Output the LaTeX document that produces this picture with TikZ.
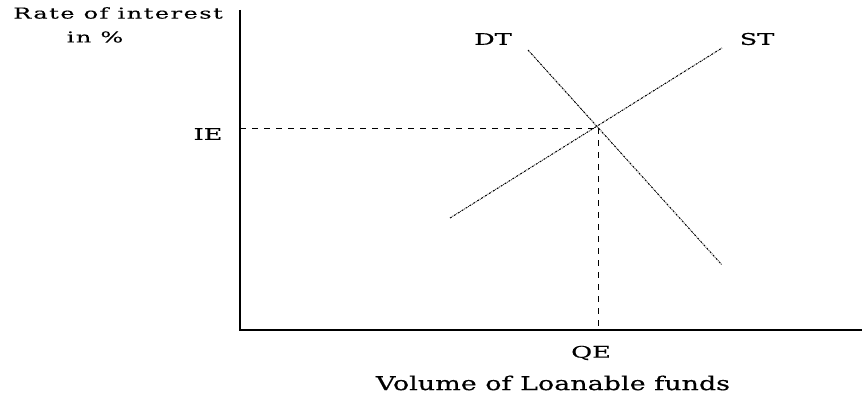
\documentclass[tikz,border=0pt]{standalone}
\usepackage{fontspec}
\setmainfont{DejaVu Serif}
\newfontfamily\widefont[FakeStretch=1.6,FakeBold=0.4]{DejaVu Serif}
\newfontfamily\ratefont[FakeStretch=1.6,LetterSpace=10,FakeBold=0.3]{DejaVu Serif}
\newfontfamily\titlefont[FakeStretch=1.42,FakeBold=0.4]{DejaVu Serif}
\usepackage{tikz}
\usetikzlibrary{positioning}

\begin{document}
\begin{tikzpicture}[
  x=1pt,y=-1pt,
  axis/.style={draw=black,line width=1.5pt},
  guide/.style={draw=black,line width=1pt,dash pattern=on 6pt off 6pt},
  curve/.style={draw=black,line width=1pt,dash pattern=on 2pt off 1pt on 0.6pt off 1pt},
  lbl/.style={font=\widefont\fontsize{16}{18}\selectfont,inner sep=0pt},
  ylbl/.style={font=\ratefont\fontsize{15}{17}\selectfont,inner sep=0pt},
  title/.style={font=\titlefont\fontsize{19}{21}\selectfont,inner sep=0pt}
]
\useasboundingbox (0,0) rectangle (862,396);

% axes and equilibrium point
\coordinate (origin) at (240,330);
\coordinate (ytop) at (240,10);
\coordinate (xend) at (862,330);
\coordinate (eq) at (598,128);
\coordinate (ie) at (240,128);
\coordinate (qe) at (598,330);

% demand and supply end points
\coordinate (dtstart) at (528,50);
\coordinate (dtend) at (722,265);
\coordinate (ststart) at (450,218);
\coordinate (stend) at (722,48);

\node[ylbl] (rate) at (118,13) {Rate of interest};
\node[ylbl] (inpct) at (95,37) {in \%};
\node[lbl] (ielbl) at (208,134) {IE};
\node[lbl] (dtlbl) at (493,39) {DT};
\node[lbl] (stlbl) at (757,39) {ST};
\node[lbl] (qelbl) at (591,353) {QE};
\node[title] (xlbl) at (553,383) {Volume of Loanable funds};

\draw[axis] (ytop) -- (origin) -- (xend);
\draw[guide] (ie) -- (eq);
\draw[guide] (eq) -- (qe);
\draw[curve] (dtstart) -- (dtend);
\draw[curve] (ststart) -- (stend);
\end{tikzpicture}
\end{document}
